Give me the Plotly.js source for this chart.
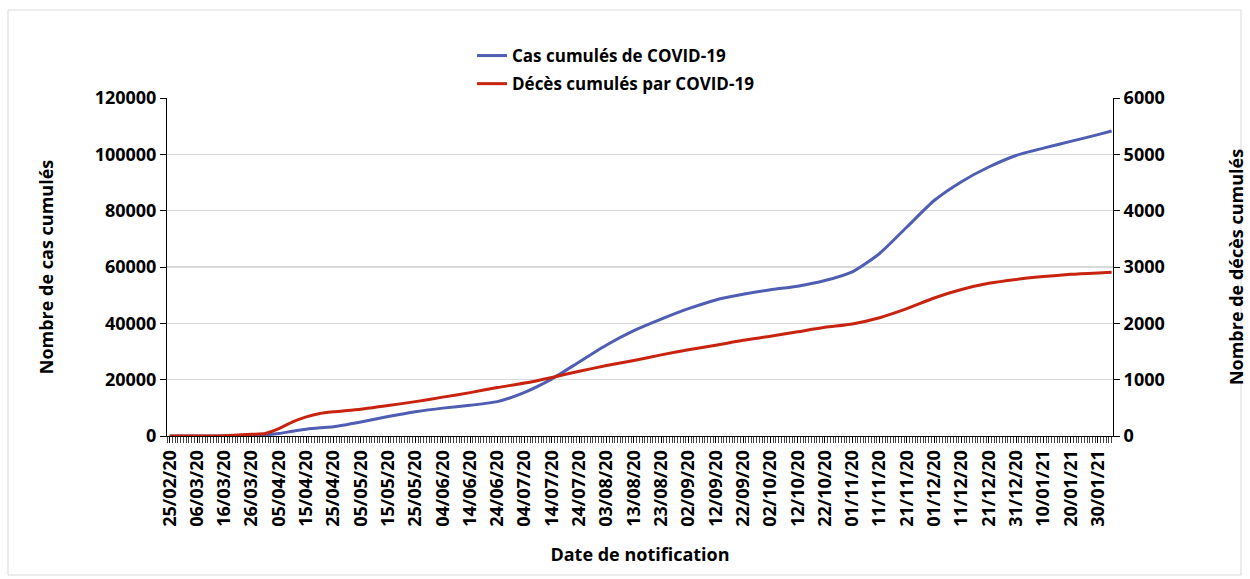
<!DOCTYPE html>
<html>
<head>
<meta charset="utf-8">
<script src="https://cdn.plot.ly/plotly-3.0.1.min.js"></script>
<style>
html,body{margin:0;padding:0;background:#fff;}
#chart{width:1250px;height:579px;}
</style>
</head>
<body>
<div id="chart"></div>
<script>
const dates = ['2020-02-25','2020-03-06','2020-03-16','2020-03-26','2020-03-31','2020-04-05','2020-04-10','2020-04-15','2020-04-20','2020-04-25',
  '2020-05-05','2020-05-15','2020-05-25','2020-06-04','2020-06-14','2020-06-24','2020-07-04','2020-07-14','2020-07-24','2020-08-03',
  '2020-08-13','2020-08-23','2020-09-02','2020-09-12','2020-09-22','2020-10-02','2020-10-12','2020-10-22','2020-11-01','2020-11-11',
  '2020-11-21','2020-12-01','2020-12-11','2020-12-21','2020-12-31','2021-01-10','2021-01-20','2021-01-30','2021-02-04'];
const cases = [0,0,20,150,400,900,1700,2400,2900,3300,
  5000,6900,8600,9900,10900,12200,15500,20300,26300,32300,
  37400,41500,45200,48300,50300,51900,53200,55200,58300,64800,
  74200,83600,90300,95500,99600,102200,104600,107000,108300];
const deaths = [0,0,5,30,45,130,250,340,400,430,
  475,540,610,690,770,860,940,1040,1150,1250,
  1340,1440,1530,1610,1700,1770,1850,1930,1990,2100,
  2260,2450,2600,2710,2780,2830,2870,2895,2905];
const seriesNames = ['Cas cumulés de COVID-19','Décès cumulés par COVID-19'];
const leftTicks = [0,20000,40000,60000,80000,100000,120000];
const rightTicks = [0,1000,2000,3000,4000,5000,6000];

const FONT = 'Open Sans, sans-serif';
const tickFont = {family: FONT, size: 18, color: '#000', weight: 'bold'};

const traces = [
  {x: dates, y: cases, name: seriesNames[0], type: 'scatter', mode: 'lines',
   line: {color: '#4f5db3', width: 3, shape: 'spline', smoothing: 0.6},
   yaxis: 'y', legendgroup: 'a', hoverinfo: 'skip'},
  {x: dates, y: deaths, name: seriesNames[1], type: 'scatter', mode: 'lines',
   line: {color: '#c8230f', width: 3, shape: 'spline', smoothing: 0.6},
   yaxis: 'y2', legendgroup: 'b', hoverinfo: 'skip'}
];

const L = 167, R = 1113, T = 98, B = 436;
const W = R - L, H = B - T;

const layout = {
  width: 1250, height: 579,
  margin: {l: L, r: 1250 - R, t: T, b: 579 - B},
  paper_bgcolor: '#fff', plot_bgcolor: '#fff',
  showlegend: true,
  legend: {x: (472 - L) / W, xanchor: 'left', y: (B - 38) / H, yanchor: 'top',
    font: {family: FONT, size: 17, color: '#000', weight: 'bold'},
    traceorder: 'grouped', tracegroupgap: 3, bgcolor: 'rgba(0,0,0,0)', itemwidth: 30},
  xaxis: {
    type: 'date',
    range: ['2020-02-24', '2021-02-04 12:00'],
    tick0: '2020-02-25', dtick: 10 * 86400000,
    tickformat: '%d/%m/%y', tickangle: -90,
    tickfont: tickFont,
    ticks: 'outside', ticklen: 6, tickcolor: '#000',
    minor: {dtick: 86400000, tick0: '2020-02-25', ticks: 'outside', ticklen: 6, tickcolor: '#444', showgrid: false},
    showline: true, linecolor: '#000', linewidth: 1,
    showgrid: false, zeroline: false,
    title: {text: 'Date de notification', font: {family: FONT, size: 18, color: '#000', weight: 'bold'}, standoff: 22},
    fixedrange: true
  },
  yaxis: {
    range: [0, 120000], tickvals: leftTicks, ticktext: leftTicks.map(String),
    tickfont: tickFont, ticks: 'outside', ticklen: 6, tickcolor: '#000',
    showline: true, linecolor: '#000', linewidth: 1,
    showgrid: true, gridcolor: '#d9d9d9', gridwidth: 1.5, zeroline: false,
    title: {text: 'Nombre de cas cumulés', font: {family: FONT, size: 18, color: '#000', weight: 'bold'}, standoff: 36},
    fixedrange: true
  },
  yaxis2: {
    overlaying: 'y', side: 'right',
    range: [0, 6000], tickvals: rightTicks, ticktext: rightTicks.map(String),
    tickfont: tickFont, ticks: 'outside', ticklen: 6, tickcolor: '#000',
    showline: true, linecolor: '#000', linewidth: 1,
    showgrid: false, zeroline: false,
    title: {text: 'Nombre de décès cumulés', font: {family: FONT, size: 18, color: '#000', weight: 'bold'}, standoff: 66},
    fixedrange: true
  },
  shapes: [
    {type: 'rect', xref: 'paper', yref: 'paper',
     x0: (8 - L) / W, x1: (1241 - L) / W, y0: (B - 575) / H, y1: (B - 10) / H,
     line: {color: '#d9d9d9', width: 1}, fillcolor: 'rgba(0,0,0,0)', layer: 'below'}
  ]
};

Plotly.newPlot('chart', traces, layout, {displayModeBar: false, staticPlot: true});
</script>
</body>
</html>
